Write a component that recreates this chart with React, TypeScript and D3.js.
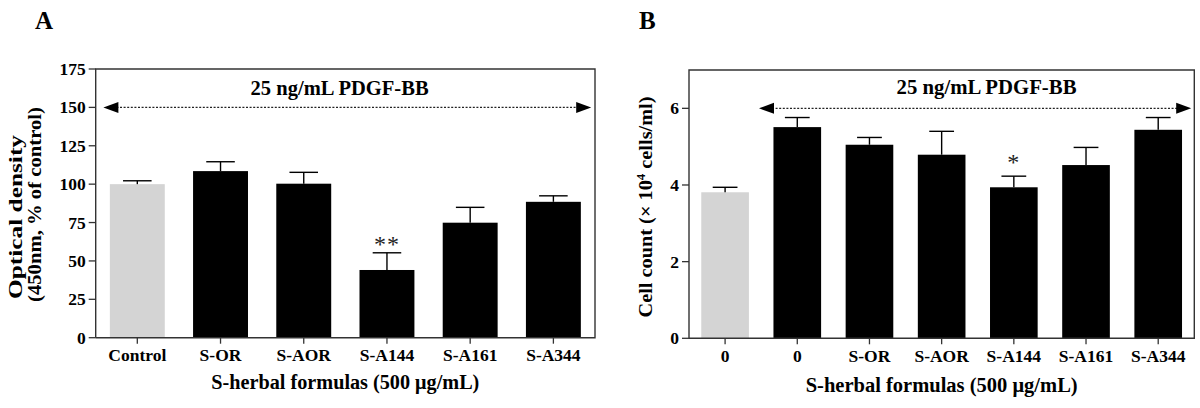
import React from "react";
import * as d3 from "d3";

// ---------- Data ----------
const categoriesA = ["Control", "S-OR", "S-AOR", "S-A144", "S-A161", "S-A344"];
const meansA = [100, 108.5, 100.3, 44.1, 74.9, 88.5];
const errorsA = [2.2, 6.1, 7.4, 11.2, 10.0, 3.9];
const signifA = ["", "", "", "**", "", ""];
const controlA = [true, false, false, false, false, false];
const ticksA = [0, 25, 50, 75, 100, 125, 150, 175];

const categoriesB = ["0", "0", "S-OR", "S-AOR", "S-A144", "S-A161", "S-A344"];
const meansB = [3.81, 5.51, 5.05, 4.79, 3.94, 4.52, 5.44];
const errorsB = [0.13, 0.25, 0.19, 0.61, 0.29, 0.46, 0.32];
const signifB = ["", "", "", "", "*", "", ""];
const controlB = [true, false, false, false, false, false, false];
const ticksB = [0, 2, 4, 6];

const treatmentLabel = "25 ng/mL PDGF-BB";
const xTitle = "S-herbal formulas (500 μg/mL)";

const FONT = "'Liberation Serif', 'Times New Roman', serif";
const AXIS = "#333";

type PanelProps = {
  letter: string;
  letterX: number;
  left: number;
  right: number;
  top: number;
  bottom: number;
  cats: string[];
  means: number[];
  errs: number[];
  sig: string[];
  ctrl: boolean[];
  ticks: number[];
  yMax: number;
  arrowValue: number;
  arrowStartIdx: number;
  arrowStartPad: number;
  arrowEndPad: number;
  textX: number;
  textY: number;
  textLen: number;
  titleY: number;
  titleLen: number;
  sigY: number;
  yTitle: React.ReactNode;
};

function Panel(p: PanelProps) {
  const idx = p.cats.map((_, i) => i);
  const x = d3
    .scaleBand<number>()
    .domain(idx)
    .range([p.left, p.right])
    .paddingInner(0.34)
    .paddingOuter(0.17);
  const y = d3.scaleLinear().domain([0, p.yMax]).range([p.bottom, p.top]);
  const bw = x.bandwidth();
  const step = x.step();
  const capW = bw * 0.52;

  const ay = y(p.arrowValue);
  const ax0 = (x(p.arrowStartIdx) as number) - (step - bw) / 2 + p.arrowStartPad;
  const ax1 = p.right - p.arrowEndPad;
  const ah = 15;
  const hh = 5.5;

  return (
    <g>
      <text
        x={p.letterX}
        y={29}
        fontFamily={FONT}
        fontWeight="bold"
        fontSize={25}
        fill="#000"
      >
        {p.letter}
      </text>

      {/* bars */}
      {idx.map((i) => (
        <rect
          key={"b" + i}
          x={x(i)}
          y={y(p.means[i])}
          width={bw}
          height={y(0) - y(p.means[i])}
          fill={p.ctrl[i] ? "#d4d4d4" : "#000"}
        />
      ))}

      {/* error bars (upper) */}
      {idx.map((i) => {
        const cx = (x(i) as number) + bw / 2;
        const yt = y(p.means[i] + p.errs[i]);
        return (
          <g key={"e" + i} stroke="#000" strokeWidth={1.4}>
            <line x1={cx} x2={cx} y1={y(p.means[i])} y2={yt} />
            <line x1={cx - capW / 2} x2={cx + capW / 2} y1={yt} y2={yt} />
          </g>
        );
      })}

      {/* significance */}
      {idx.map((i) =>
        p.sig[i] ? (
          <text
            key={"s" + i}
            x={(x(i) as number) + bw / 2}
            y={p.sigY}
            textAnchor="middle"
            dominantBaseline="middle"
            fontFamily={FONT}
            fontSize={24}
            fill="#222"
            letterSpacing={1}
          >
            {p.sig[i]}
          </text>
        ) : null
      )}

      {/* frame */}
      <path
        d={`M${p.left},${p.bottom}V${p.top}H${p.right}V${p.bottom}H${p.left}`}
        fill="none"
        stroke={AXIS}
        strokeWidth={1.4}
      />

      {/* y ticks */}
      {p.ticks.map((t) => (
        <g key={"yt" + t}>
          <line
            x1={p.left - 7}
            x2={p.left}
            y1={y(t)}
            y2={y(t)}
            stroke={AXIS}
            strokeWidth={1.3}
          />
          <text
            x={p.left - 10}
            y={y(t)}
            textAnchor="end"
            dominantBaseline="central"
            fontFamily={FONT}
            fontWeight="bold"
            fontSize={17.5}
            fill="#000"
          >
            {t}
          </text>
        </g>
      ))}

      {/* x ticks */}
      {idx.map((i) => {
        const cx = (x(i) as number) + bw / 2;
        return (
          <g key={"xt" + i}>
            <line
              x1={cx}
              x2={cx}
              y1={p.bottom}
              y2={p.bottom + 6}
              stroke={AXIS}
              strokeWidth={1.3}
            />
            <text
              x={cx}
              y={p.bottom + 23.5}
              textAnchor="middle"
              fontFamily={FONT}
              fontWeight="bold"
              fontSize={17.5}
              fill="#000"
            >
              {p.cats[i]}
            </text>
          </g>
        );
      })}

      {/* treatment arrow */}
      <line
        x1={ax0 + ah - 2}
        x2={ax1 - ah + 2}
        y1={ay}
        y2={ay}
        stroke="#222"
        strokeWidth={1.3}
        strokeDasharray="2 1.6"
      />
      <path d={`M${ax0},${ay}L${ax0 + ah},${ay - hh}L${ax0 + ah},${ay + hh}Z`} fill="#000" />
      <path d={`M${ax1},${ay}L${ax1 - ah},${ay - hh}L${ax1 - ah},${ay + hh}Z`} fill="#000" />
      <text
        x={p.textX}
        y={p.textY}
        textAnchor="middle"
        fontFamily={FONT}
        fontWeight="bold"
        fontSize={20}
        textLength={p.textLen}
        lengthAdjust="spacingAndGlyphs"
        fill="#000"
      >
        {treatmentLabel}
      </text>

      {/* x title */}
      <text
        x={(p.left + p.right) / 2}
        y={p.titleY}
        textAnchor="middle"
        fontFamily={FONT}
        fontWeight="bold"
        fontSize={20}
        textLength={p.titleLen}
        lengthAdjust="spacingAndGlyphs"
        fill="#000"
      >
        {xTitle}
      </text>

      {p.yTitle}
    </g>
  );
}

export default function App() {
  return (
    <svg
      width={1200}
      height={408}
      viewBox="0 0 1200 408"
      style={{ position: "absolute", left: 0, top: 0, background: "#fff" }}
    >
      <rect width={1200} height={408} fill="#fff" />
      <Panel
        letter="A"
        letterX={35}
        left={95.7}
        right={595}
        top={69}
        bottom={337.7}
        cats={categoriesA}
        means={meansA}
        errs={errorsA}
        sig={signifA}
        ctrl={controlA}
        ticks={ticksA}
        yMax={175}
        arrowValue={150}
        arrowStartIdx={0}
        arrowStartPad={7.7}
        arrowEndPad={3.8}
        textX={339.6}
        textY={95}
        textLen={178}
        titleY={389}
        titleLen={268}
        sigY={246}
        yTitle={
          <g fontFamily={FONT} fontWeight="bold" fill="#000">
            <text
              transform="translate(22,217) rotate(-90)"
              textAnchor="middle"
              fontSize={19}
              textLength={164}
              lengthAdjust="spacingAndGlyphs"
            >
              Optical density
            </text>
            <text
              transform="translate(40.5,204.5) rotate(-90)"
              textAnchor="middle"
              fontSize={18}
              textLength={195}
              lengthAdjust="spacingAndGlyphs"
            >
              (450nm, % of control)
            </text>
          </g>
        }
      />
      <Panel
        letter="B"
        letterX={639}
        left={689}
        right={1194.3}
        top={70}
        bottom={338.3}
        cats={categoriesB}
        means={meansB}
        errs={errorsB}
        sig={signifB}
        ctrl={controlB}
        ticks={ticksB}
        yMax={7}
        arrowValue={6}
        arrowStartIdx={1}
        arrowStartPad={-2.2}
        arrowEndPad={3.1}
        textX={986.5}
        textY={93.5}
        textLen={180}
        titleY={392}
        titleLen={272}
        sigY={164}
        yTitle={
          <g fontFamily={FONT} fontWeight="bold" fill="#000">
            <text
              transform="translate(652,207) rotate(-90)"
              textAnchor="middle"
              fontSize={19}
              textLength={221}
              lengthAdjust="spacingAndGlyphs"
            >
              Cell count (× 10
              <tspan dy={-7} fontSize={12}>
                4
              </tspan>
              <tspan dy={7}> cells/ml)</tspan>
            </text>
          </g>
        }
      />
    </svg>
  );
}
